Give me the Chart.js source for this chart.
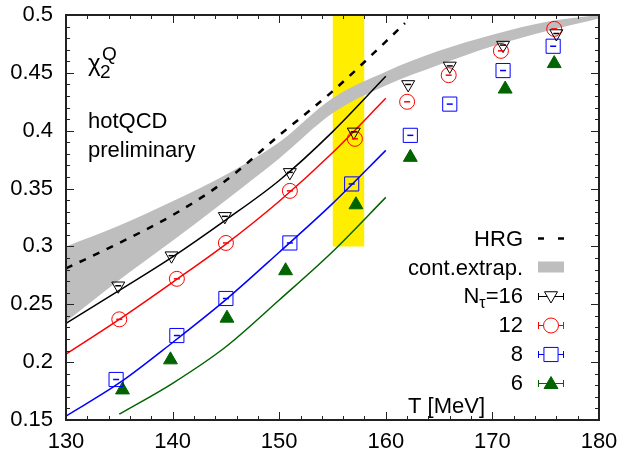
<!DOCTYPE html>
<html>
<head>
<meta charset="utf-8">
<script src="https://cdn.jsdelivr.net/npm/chart.js@4"></script>
<style>
  html, body { margin: 0; padding: 0; background: #fff; }
  #wrap { width: 623px; height: 456px; }
</style>
</head>
<body>
<div id="wrap"><canvas id="chi2"></canvas></div>
<script>
// lattice points (T in MeV, chi_2^Q)
const t16 = [134.9, 139.9, 144.9, 151.0, 157.0, 162.1, 166.0, 171.0, 176.0];
const chi16 = [0.266, 0.292, 0.326, 0.364, 0.399, 0.440, 0.456, 0.474, 0.484];
const t12 = [135.0, 140.4, 145.0, 151.0, 157.1, 162.0, 165.9, 170.8, 175.8];
const chi12 = [0.237, 0.272, 0.303, 0.348, 0.393, 0.425, 0.448, 0.469, 0.488];
const t8 = [134.7, 140.4, 145.0, 151.0, 156.8, 162.3, 166.0, 171.0, 175.7];
const chi8 = [0.185, 0.223, 0.255, 0.303, 0.354, 0.396, 0.423, 0.452, 0.473];
const t6 = [135.3, 139.8, 145.1, 150.6, 157.2, 162.3, 171.2, 175.8];
const chi6 = [0.176, 0.202, 0.238, 0.279, 0.336, 0.377, 0.436, 0.458];

// fit curves for each N_tau
const fitT = [130, 135, 140, 145, 150, 155, 160];
const fit16 = [0.2335, 0.262, 0.291, 0.323, 0.357, 0.399, 0.447];
const fit12 = [0.207, 0.237, 0.269, 0.302, 0.339, 0.381, 0.428];
const fit8 = [0.1534, 0.182, 0.217, 0.254, 0.295, 0.337, 0.383];
const fit6T = [135, 140, 145, 150, 155, 160];
const fit6 = [0.155, 0.1817, 0.2133, 0.2537, 0.2954, 0.3424];

// HRG curve
const hrgT = [130, 135, 140, 145, 150, 155, 160, 161.8];
const hrg = [0.281, 0.303, 0.327, 0.357, 0.396, 0.434, 0.477, 0.493];

// continuum extrapolation band
const bandT = [130, 135, 140, 145, 150, 155, 160, 165, 170, 175, 180];
const bandHi = [0.300, 0.318, 0.339, 0.362, 0.390, 0.428, 0.451, 0.469, 0.483, 0.494, 0.500];
const bandLo = [0.235, 0.271, 0.305, 0.340, 0.376, 0.415, 0.439, 0.457, 0.473, 0.486, 0.497];

// T_c region
const tcT = [155, 158];
const tcHi = [0.5, 0.5];
const tcLo = [0.3, 0.3];

const legendLabels = ['HRG', 'cont.extrap.', 'N\u03c4=16', '12', '8', '6'];

const FONT = '"Liberation Sans", Arial, Helvetica, sans-serif';
const RED = '#ff0000', BLUE = '#0000ff', GREEN = '#006400';

const pts = (xs, ys) => xs.map((x, i) => ({ x: x, y: ys[i] }));

function marker(label, xs, ys, style, color, fill, r, rot) {
    return {
        label: label, data: pts(xs, ys), showLine: false,
        pointStyle: style, pointRadius: r, pointHoverRadius: r, pointRotation: rot || 0,
        pointBorderColor: color, pointBackgroundColor: fill, pointBorderWidth: 1,
        borderColor: color, errTick: true, order: 1
    };
}

function curve(xs, ys, color, w, dash) {
    return {
        data: pts(xs, ys), borderColor: color, borderWidth: w, borderDash: dash || [],
        pointRadius: 0, fill: false, cubicInterpolationMode: 'monotone', order: 2
    };
}

function band(xs, ys, color, fill, order) {
    return {
        data: pts(xs, ys), borderColor: 'rgba(0,0,0,0)', borderWidth: 0, pointRadius: 0,
        backgroundColor: color, fill: fill, order: order, cubicInterpolationMode: 'monotone'
    };
}

// shapes for the legend, same geometry as Chart.js point styles
function drawMark(ctx, kind, x, y, r, color, filled) {
    ctx.beginPath();
    if (kind === 'circle') {
        ctx.arc(x, y, r, 0, Math.PI * 2);
    } else if (kind === 'rect') {
        const s = r * Math.SQRT1_2;
        ctx.rect(x - s, y - s, 2 * s, 2 * s);
    } else {
        const dir = kind === 'triDown' ? -1 : 1;
        const w = r * Math.sin(Math.PI / 3);
        ctx.moveTo(x, y - dir * r);
        ctx.lineTo(x + w, y + dir * r / 2);
        ctx.lineTo(x - w, y + dir * r / 2);
        ctx.closePath();
    }
    ctx.fillStyle = filled ? color : '#fff';
    ctx.fill();
    ctx.strokeStyle = color;
    ctx.lineWidth = 1;
    ctx.stroke();
}

const frame = {
    id: 'frame',
    afterDatasetsDraw(chart) {
        const ctx = chart.ctx;
        ctx.save();
        chart.data.datasets.forEach((ds, i) => {
            if (!ds.errTick) return;
            ctx.strokeStyle = ds.borderColor;
            ctx.lineWidth = 1.5;
            chart.getDatasetMeta(i).data.forEach(p => {
                ctx.beginPath();
                ctx.moveTo(p.x - 3, p.y);
                ctx.lineTo(p.x + 3, p.y);
                ctx.stroke();
            });
        });
        ctx.restore();
    },
    afterDraw(chart) {
        const { ctx, chartArea: a, scales: { x, y } } = chart;
        ctx.save();
        ctx.strokeStyle = '#222';
        ctx.lineWidth = 1;
        ctx.beginPath();
        for (let v = 130; v <= 180; v += 2) {
            const px = Math.round(x.getPixelForValue(v)) + 0.5;
            const len = v % 10 === 0 ? 8 : 4;
            ctx.moveTo(px, a.bottom); ctx.lineTo(px, a.bottom - len);
            ctx.moveTo(px, a.top); ctx.lineTo(px, a.top + len);
        }
        for (let i = 0; i <= 35; i++) {
            const py = Math.round(y.getPixelForValue(0.15 + i * 0.01)) + 0.5;
            const len = i % 5 === 0 ? 8 : 4;
            ctx.moveTo(a.left, py); ctx.lineTo(a.left + len, py);
            ctx.moveTo(a.right, py); ctx.lineTo(a.right - len, py);
        }
        ctx.stroke();
        ctx.lineWidth = 2;
        ctx.strokeRect(a.left, a.top, a.right - a.left, a.bottom - a.top);

        // labels inside the plot
        ctx.fillStyle = '#000';
        ctx.textBaseline = 'alphabetic';
        ctx.textAlign = 'left';
        ctx.font = '24px ' + FONT;
        ctx.fillText('\u03c7', 88, 71);
        ctx.font = '19px ' + FONT;
        ctx.fillText('2', 100, 78);
        ctx.fillText('Q', 102, 60);
        ctx.font = '22px ' + FONT;
        ctx.fillText('hotQCD', 88, 128);
        ctx.fillText('preliminary', 88, 157);
        ctx.fillText('T [MeV]', 408, 413);

        // legend
        const rows = [246, 274.5, 303, 332, 361, 390];
        const tx = 523, sx = 551, x0 = 538, x1 = 564;
        ctx.textAlign = 'right';
        legendLabels.forEach((lab, k) => {
            const by = rows[k];
            if (lab.indexOf('\u03c4') > 0) {
                const [pre, post] = lab.split('\u03c4');
                ctx.font = '22px ' + FONT;
                const wPost = ctx.measureText(post).width;
                ctx.fillText(post, tx, by);
                ctx.font = '16px ' + FONT;
                const wTau = ctx.measureText('\u03c4').width;
                ctx.fillText('\u03c4', tx - wPost, by + 5);
                ctx.font = '22px ' + FONT;
                ctx.fillText(pre, tx - wPost - wTau, by);
            } else {
                ctx.font = '22px ' + FONT;
                ctx.fillText(lab, tx, by);
            }
        });
        // HRG dashes
        ctx.strokeStyle = '#000';
        ctx.lineWidth = 2.5;
        ctx.beginPath();
        ctx.moveTo(x0, rows[0] - 7.5); ctx.lineTo(x0 + 6, rows[0] - 7.5);
        ctx.moveTo(x1 - 6, rows[0] - 7.5); ctx.lineTo(x1, rows[0] - 7.5);
        ctx.stroke();
        // band swatch
        ctx.fillStyle = '#bebebe';
        ctx.fillRect(x0, rows[1] - 13, x1 - x0, 11);
        // markers with x error bars
        const marks = [['triDown', '#000', false, 7.5], ['circle', RED, false, 7.5],
                       ['rect', BLUE, false, 10], ['triUp', GREEN, true, 8]];
        marks.forEach((m, k) => {
            const yy = rows[k + 2] - 6.5;
            ctx.strokeStyle = m[1];
            ctx.lineWidth = 1;
            ctx.beginPath();
            ctx.moveTo(x0, yy); ctx.lineTo(x1, yy);
            ctx.moveTo(x0 + 0.5, yy - 3.5); ctx.lineTo(x0 + 0.5, yy + 3.5);
            ctx.moveTo(x1 - 0.5, yy - 3.5); ctx.lineTo(x1 - 0.5, yy + 3.5);
            ctx.stroke();
            drawMark(ctx, m[0], sx, yy + (m[0] === 'triDown' ? -1 : (m[0] === 'triUp' ? 1 : 0)), m[3], m[1], m[2]);
        });
        ctx.restore();
    }
};

new Chart(document.getElementById('chi2'), {
    type: 'line',
    data: {
        datasets: [
            marker('N\u03c4=16', t16, chi16, 'triangle', '#000', 'rgba(255,255,255,0)', 7.5, 180),
            marker('12', t12, chi12, 'circle', RED, 'rgba(255,255,255,0)', 7.5),
            marker('8', t8, chi8, 'rect', BLUE, 'rgba(255,255,255,0)', 10),
            marker('6', t6, chi6, 'triangle', GREEN, GREEN, 8),
            curve(fitT, fit16, '#000', 1.5),
            curve(fitT, fit12, RED, 1.5),
            curve(fitT, fit8, BLUE, 1.5),
            curve(fit6T, fit6, GREEN, 1.5),
            curve(hrgT, hrg, '#000', 2.5, [7, 8]),
            band(bandT, bandHi, '#bebebe', false, 3),
            band(bandT, bandLo, '#bebebe', '-1', 3),
            band(tcT, tcHi, '#ffee00', false, 4),
            band(tcT, tcLo, '#ffee00', '-1', 4)
        ]
    },
    options: {
        responsive: true,
        maintainAspectRatio: false,
        animation: false,
        layout: { padding: { top: 15, right: 24, left: 0, bottom: 0 } },
        plugins: { legend: { display: false }, tooltip: { enabled: false } },
        scales: {
            x: {
                type: 'linear', min: 130, max: 180,
                afterFit: s => { s.height = 36; s.paddingLeft = 0; s.paddingRight = 0; },
                grid: { display: false, drawTicks: false },
                border: { display: false },
                ticks: { stepSize: 10, padding: 9, color: '#000', font: { family: FONT, size: 22 } }
            },
            y: {
                type: 'linear', min: 0.15, max: 0.5,
                afterFit: s => { s.width = 66; s.paddingTop = 0; s.paddingBottom = 0; },
                grid: { display: false, drawTicks: false },
                border: { display: false },
                ticks: {
                    stepSize: 0.05, padding: 13, color: '#000', font: { family: FONT, size: 22 },
                    callback: v => String(+v.toFixed(2))
                }
            }
        }
    },
    plugins: [frame]
});
</script>
</body>
</html>
